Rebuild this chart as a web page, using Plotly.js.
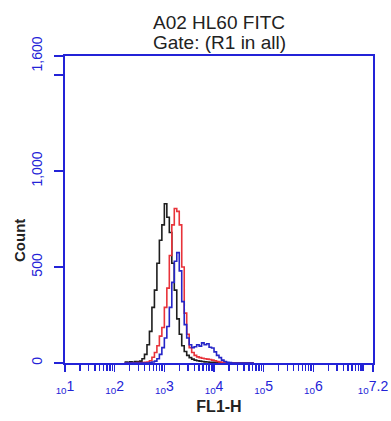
<!DOCTYPE html>
<html>
<head>
<meta charset="utf-8">
<script src="https://cdn.plot.ly/plotly-3.0.1.min.js"></script>
<style>html,body{margin:0;padding:0;background:#fff;}#chart{width:391px;height:421px;}</style>
</head>
<body>
<div id="chart"></div>
<script>
// FL1-H channel values (log-spaced bins)
var fl1h = [158, 178, 200, 224, 251, 282, 316, 355, 398, 447, 501, 562, 631, 708, 794, 891,
  1000, 1122, 1259, 1413, 1585, 1778, 1995, 2239, 2512, 2818, 3162, 3548, 3981, 4467, 5012,
  5623, 6310, 7079, 7943, 8913, 10000, 11220, 12589, 14125, 15849, 17783, 19953, 22387,
  25119, 28184, 31623, 35481, 39811, 44668, 50119, 56234, 63096];

var countBlack = [5, 3, 6, 4, 8, 6, 10, 22, 45, 95, 165, 290, 380, 520, 640, 720,
  830, 760, 680, 520, 380, 230, 150, 90, 60, 40, 28, 20, 15, 12, 10,
  8, 6, 5, 4, 3, 3, 2, 2, 1, 1, 0, 0, 0, 0, 0, 0, 0, 0, 0, 0, 0, 0];

var countRed = [0, 0, 0, 1, 0, 2, 1, 2, 3, 5, 12, 30, 55, 90, 140, 185,
  290, 390, 560, 720, 805, 790, 720, 500, 260, 150, 80, 55, 40, 32, 28,
  25, 22, 20, 18, 15, 12, 8, 5, 3, 2, 1, 0, 0, 0, 0, 0, 0, 0, 0, 0, 0, 0];

var countBlue = [0, 0, 0, 0, 0, 0, 0, 0, 0, 0, 2, 5, 10, 22, 45, 80,
  130, 190, 290, 420, 530, 575, 480, 320, 200, 130, 95, 80, 85, 95, 88,
  105, 95, 100, 82, 78, 58, 40, 28, 15, 8, 4, 2, 0, 0, 0, 0, 0, 0, 0, 0, 0, 0];

var xTickVals = [10, 100, 1000, 10000, 100000, 1000000, 15848932];
var xTickText = ['<sub>10</sub>1', '<sub>10</sub>2', '<sub>10</sub>3', '<sub>10</sub>4',
  '<sub>10</sub>5', '<sub>10</sub>6', '<sub>10</sub>7.2'];
var yTickVals = [0, 500, 1000, 1500, 1600];
var yTickText = ['0', '500', '1,000', ' ', '1,600'];

var axisBlue = 'rgb(35,35,215)';
var font = 'Liberation Sans, Arial, sans-serif';

function trace(y, color) {
  return {x: fl1h, y: y, type: 'scatter', mode: 'lines', line: {color: color, width: 1.6, shape: 'hv'},
    hoverinfo: 'x+y', showlegend: false};
}

var data = [trace(countBlack, '#1e1e1e'), trace(countRed, '#e8333a'), trace(countBlue, '#2525c8')];

var layout = {
  width: 391, height: 421,
  margin: {l: 65, r: 18, t: 56, b: 58},
  paper_bgcolor: '#fff', plot_bgcolor: '#fff',
  font: {family: font, color: '#222'},
  title: {text: 'A02 HL60 FITC', x: 0.5, xref: 'paper', xanchor: 'center',
    y: 1 - 22 / 421, yref: 'container', yanchor: 'middle', font: {size: 19, color: '#222', family: font}},
  xaxis: {
    type: 'log', range: [1, 7.2], showgrid: false, zeroline: false,
    showline: true, linecolor: axisBlue, linewidth: 2, mirror: true,
    tickmode: 'array', tickvals: xTickVals, ticktext: xTickText,
    ticks: 'outside', ticklen: 7, tickwidth: 1.5, tickcolor: axisBlue,
    tickfont: {size: 14, color: axisBlue, family: font}, ticklabelstandoff: 2,
    minor: {dtick: 'D1', ticks: 'outside', ticklen: 6, tickwidth: 1.5, tickcolor: axisBlue, showgrid: false},
    title: {text: '<b>FL1-H</b>', font: {size: 16, color: '#222', family: font}, standoff: 6}
  },
  yaxis: {
    range: [0, 1600], showgrid: false, zeroline: false,
    showline: true, linecolor: axisBlue, linewidth: 2, mirror: true,
    tickmode: 'array', tickvals: yTickVals, ticktext: yTickText,
    ticks: 'outside', ticklen: 9, tickwidth: 1.5, tickcolor: axisBlue,
    tickangle: -90, tickfont: {size: 14, color: axisBlue, family: font}, ticklabelstandoff: 6
  },
  annotations: [
    {text: 'Gate: (R1 in all)', xref: 'paper', yref: 'paper', x: 0.5, y: 1 + (56 - 43) / 307,
      xanchor: 'center', yanchor: 'middle', showarrow: false, font: {size: 19, color: '#222', family: font}},
    {text: '<b>Count</b>', xref: 'paper', yref: 'y', x: -0.15, y: 640, textangle: -90,
      xanchor: 'center', yanchor: 'middle', showarrow: false, font: {size: 15, color: '#222', family: font}}
  ]
};

Plotly.newPlot('chart', data, layout, {displayModeBar: false, staticPlot: true});
</script>
</body>
</html>
